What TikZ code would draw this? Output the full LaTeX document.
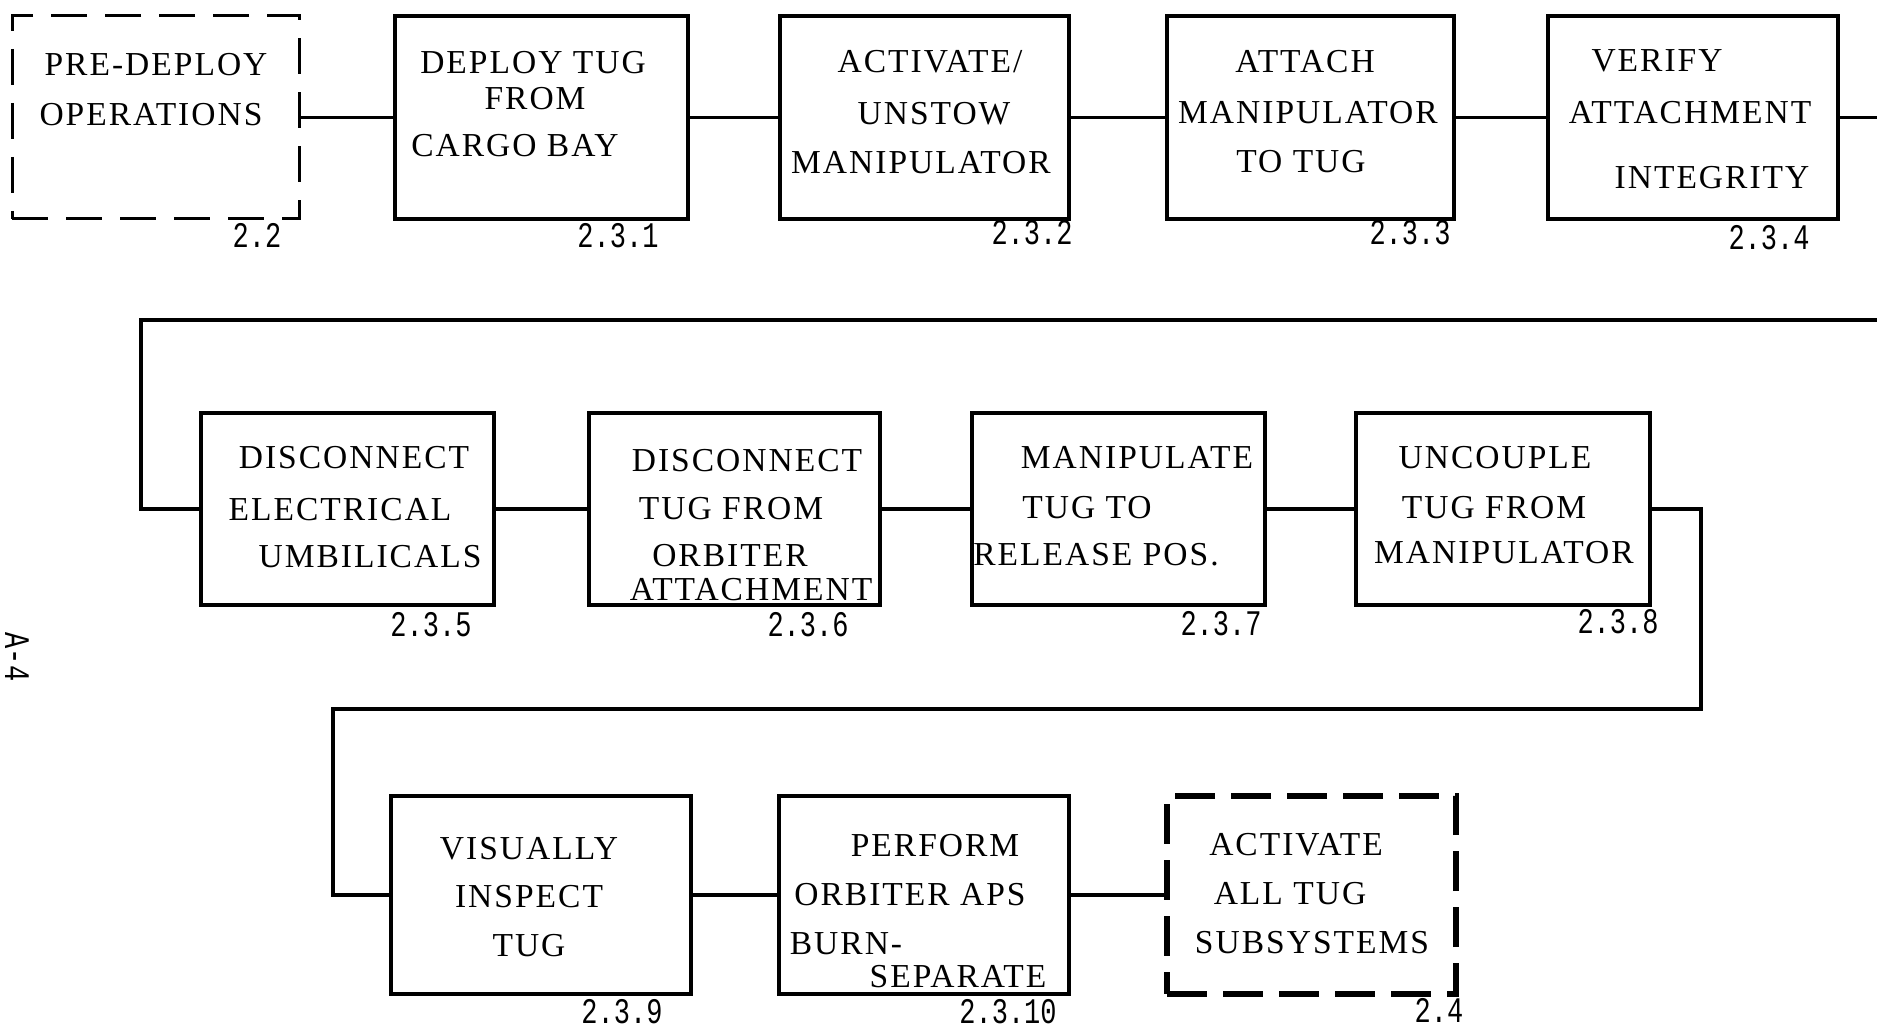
\documentclass[tikz,border=0pt]{standalone}
\usepackage{fontspec}
\usepackage{graphicx}
\newfontfamily\tw{Liberation Mono}
\newfontfamily\sr[LetterSpace=6]{Liberation Serif}
\tikzset{
  box/.style={draw, line width=4.5pt, inner sep=0pt},
  dbox/.style={draw, line width=3pt, inner sep=0pt, dash pattern=on 36pt off 18pt},
  dboxb/.style={draw, line width=5.5pt, inner sep=0pt, dash pattern=on 40pt off 16pt},
  conn/.style={line width=3.2pt},
  txt/.style={font=\sr\fontsize{33.5}{40}\selectfont, inner sep=0pt, anchor=center},
  num/.style={font=\tw\fontsize{36}{40}\selectfont, inner sep=0pt, anchor=center}
}
\newcommand{\nb}[1]{\scalebox{0.75}[1]{#1}}
\begin{document}
\begin{tikzpicture}[x=1pt,y=-1pt]
\useasboundingbox (0,0) rectangle (1877,1027);
% Row 1
\node[dbox, minimum width=287pt, minimum height=203pt] (b22) at (155.5,117.5) {};
\node[box, minimum width=293pt, minimum height=203pt] (b231) at (541.5,117.5) {};
\node[box, minimum width=289pt, minimum height=203pt] (b232) at (924.5,117.5) {};
\node[box, minimum width=287pt, minimum height=203pt] (b233) at (1310.5,117.5) {};
\node[box, minimum width=290pt, minimum height=203pt] (b234) at (1693,117.5) {};
% Row 2
\node[box, minimum width=293pt, minimum height=192pt] (b235) at (347.5,509) {};
\node[box, minimum width=291pt, minimum height=192pt] (b236) at (734.5,509) {};
\node[box, minimum width=293pt, minimum height=192pt] (b237) at (1118.5,509) {};
\node[box, minimum width=294pt, minimum height=192pt] (b238) at (1503,509) {};
% Row 3
\node[box, minimum width=300pt, minimum height=198pt] (b239) at (541,895) {};
\node[box, minimum width=290pt, minimum height=198pt] (b2310) at (924,895) {};
\node[dboxb, minimum width=289pt, minimum height=198pt] (b24) at (1311.5,895) {};

% texts row 1
\node[txt] (t1a) at (156,65) {PRE-DEPLOY};
\node[txt] (t1b) at (151,115) {OPERATIONS};
\node[txt] (t2a) at (533,63) {DEPLOY TUG};
\node[txt] (t2b) at (535,99) {FROM};
\node[txt] (t2c) at (515,146) {CARGO BAY};
\node[txt] (t3a) at (930,62) {ACTIVATE/};
\node[txt] (t3b) at (934,114) {UNSTOW};
\node[txt] (t3c) at (921,163) {MANIPULATOR};
\node[txt] (t4a) at (1305,62) {ATTACH};
\node[txt] (t4b) at (1308,113) {MANIPULATOR};
\node[txt] (t4c) at (1301,162) {TO TUG};
\node[txt] (t5a) at (1657,61) {VERIFY};
\node[txt] (t5b) at (1690,113) {ATTACHMENT};
\node[txt] (t5c) at (1712,178) {INTEGRITY};
% texts row 2
\node[txt] (t6a) at (354,458) {DISCONNECT};
\node[txt] (t6b) at (340,510) {ELECTRICAL};
\node[txt] (t6c) at (370,557) {UMBILICALS};
\node[txt] (t7a) at (747,461) {DISCONNECT};
\node[txt] (t7b) at (731,509) {TUG FROM};
\node[txt] (t7c) at (730,556) {ORBITER};
\node[txt] (t7d) at (751,590) {ATTACHMENT};
\node[txt] (t8a) at (1137,458) {MANIPULATE};
\node[txt] (t8b) at (1087,508) {TUG TO};
\node[txt] (t8c) at (1096,555) {RELEASE POS.};
\node[txt] (t9a) at (1495,458) {UNCOUPLE};
\node[txt] (t9b) at (1494,508) {TUG FROM};
\node[txt] (t9c) at (1504,553) {MANIPULATOR};
% texts row 3
\node[txt] (t10a) at (529,849) {VISUALLY};
\node[txt] (t10b) at (529,897) {INSPECT};
\node[txt] (t10c) at (529,946) {TUG};
\node[txt] (t11a) at (935,846) {PERFORM};
\node[txt] (t11b) at (910,895) {ORBITER APS};
\node[txt] (t11c) at (846,944) {BURN-};
\node[txt] (t11d) at (958,977) {SEPARATE};
\node[txt] (t12a) at (1296,845) {ACTIVATE};
\node[txt] (t12b) at (1290,894) {ALL TUG};
\node[txt] (t12c) at (1312,943) {SUBSYSTEMS};

% numbers
\node[num] (n1) at (257,235) {\nb{2.2}};
\node[num] (n2) at (618,236) {\nb{2.3.1}};
\node[num] (n3) at (1032,233) {\nb{2.3.2}};
\node[num] (n4) at (1410,233) {\nb{2.3.3}};
\node[num] (n5) at (1769,238) {\nb{2.3.4}};
\node[num] (n6) at (431,625) {\nb{2.3.5}};
\node[num] (n7) at (808,625) {\nb{2.3.6}};
\node[num] (n8) at (1221,624) {\nb{2.3.7}};
\node[num] (n9) at (1618,622) {\nb{2.3.8}};
\node[num] (n10) at (622,1012) {\nb{2.3.9}};
\node[num] (n11) at (1008,1012) {\nb{2.3.10}};
\node[num] (n12) at (1439,1010) {\nb{2.4}};

\node[num, rotate=-90] (page) at (17,657) {\nb{A-4}};

% connectors
\coordinate (r1) at (1877,117.5);
\coordinate (wR) at (1877,320);
\coordinate (wL) at (141,320);
\coordinate (w2) at (1701,709);
\coordinate (w3) at (333,709);
\draw[conn] (b22.east) -- (b231.west);
\draw[conn] (b231.east) -- (b232.west);
\draw[conn] (b232.east) -- (b233.west);
\draw[conn] (b233.east) -- (b234.west);
\draw[conn] (b234.east) -- (r1);
\draw[conn] (wR) -- (wL) |- (b235.west);
\draw[conn] (b235.east) -- (b236.west);
\draw[conn] (b236.east) -- (b237.west);
\draw[conn] (b237.east) -- (b238.west);
\draw[conn] (b238.east) -| (w2) -- (w3) |- (b239.west);
\draw[conn] (b239.east) -- (b2310.west);
\draw[conn] (b2310.east) -- (b24.west);
\end{tikzpicture}
\end{document}
